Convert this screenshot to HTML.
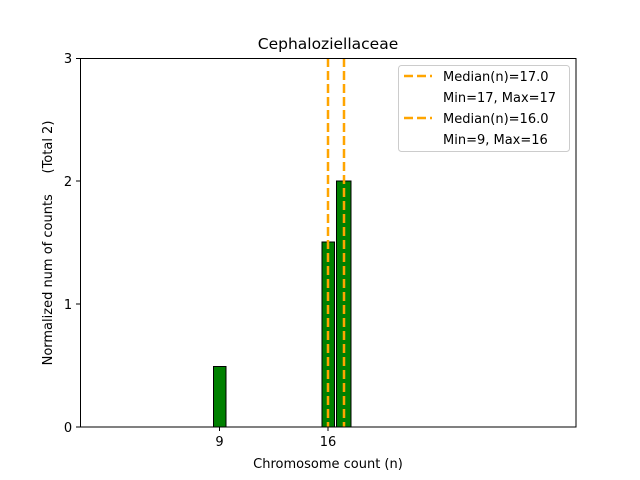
<!DOCTYPE html>
<html><head><meta charset="utf-8"><style>body{margin:0;background:#fff}svg{display:block}text{font-family:"DejaVu Sans","Liberation Sans",sans-serif;fill:#000}</style></head><body>
<svg width="640" height="480" viewBox="0 0 640 480" xmlns="http://www.w3.org/2000/svg">
<rect width="640" height="480" fill="#fff"/>
<line x1="80" y1="427" x2="398" y2="427" stroke="#888" stroke-width="1"/>
<rect x="213.5" y="366.5" width="12.5" height="60.5" fill="#008000" stroke="#000" stroke-width="1"/>
<rect x="322" y="242" width="12.5" height="185" fill="#008000" stroke="#000" stroke-width="1"/>
<rect x="336.5" y="181" width="14.5" height="246" fill="#008000" stroke="#000" stroke-width="1"/>
<line x1="328" y1="58" x2="328" y2="427" stroke="#ffa500" stroke-width="2.5" stroke-dasharray="9,4"/>
<line x1="344" y1="58" x2="344" y2="427" stroke="#ffa500" stroke-width="2.5" stroke-dasharray="9,4"/>
<rect x="80.5" y="58.5" width="495.5" height="368.5" fill="none" stroke="#000" stroke-width="1"/>
<g stroke="#000" stroke-width="1">
<line x1="76" y1="427" x2="80" y2="427"/><line x1="76" y1="304" x2="80" y2="304"/><line x1="76" y1="181" x2="80" y2="181"/><line x1="76" y1="58.5" x2="80" y2="58.5"/>
<line x1="219.5" y1="427" x2="219.5" y2="431"/><line x1="328" y1="427" x2="328" y2="431"/>
</g>
<g font-size="13" text-anchor="middle">
<text x="68" y="432">0</text><text x="68" y="309">1</text><text x="68" y="186">2</text><text x="68" y="63">3</text>
<text x="219.5" y="446">9</text><text x="328" y="446">16</text>
<text x="328" y="468">Chromosome count (n)</text>
<text x="328" y="49" font-size="15.5">Cephaloziellaceae</text>
<text transform="translate(52,243) rotate(-90)" style="white-space:pre" xml:space="preserve">Normalized num of counts     (Total 2)</text>
</g>
<rect x="398.5" y="65.5" width="171" height="86" rx="3" fill="#fff" stroke="#ccc" stroke-width="1"/>
<line x1="404" y1="76" x2="432" y2="76" stroke="#ffa500" stroke-width="2.5" stroke-dasharray="9,4"/>
<line x1="404" y1="118" x2="432" y2="118" stroke="#ffa500" stroke-width="2.5" stroke-dasharray="9,4"/>
<g font-size="13">
<text x="443" y="81">Median(n)=17.0</text>
<text x="443" y="102">Min=17, Max=17</text>
<text x="443" y="123">Median(n)=16.0</text>
<text x="443" y="144">Min=9, Max=16</text>
</g>
</svg>
</body></html>
